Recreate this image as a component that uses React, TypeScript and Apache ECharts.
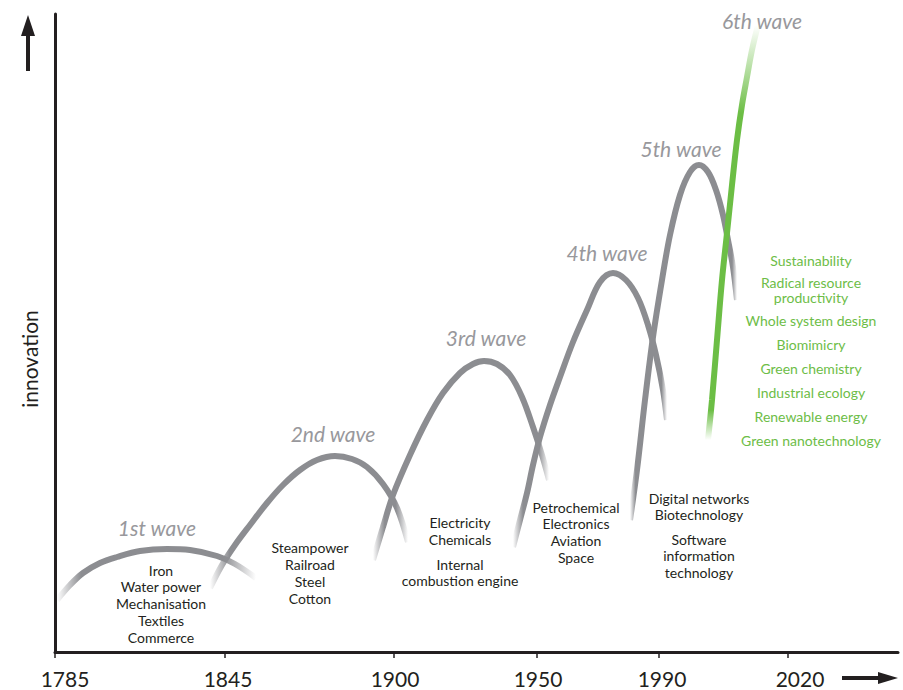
import React, { useEffect, useRef } from "react";
import * as echarts from "echarts";

// ---------- data ----------
// x: position along the timeline axis (axis units), y: innovation level (axis units)
const years = ["1785", "1845", "1900", "1950", "1990", "2020"];
const yearPos = [0, 170, 339, 482, 604, 733];
const yearShift = [10, 3, 1, 1, 3, 12];

const wave1 = [[2, 52], [15, 67], [28, 79], [45, 89], [62, 95], [85, 101], [112, 103], [135, 102], [162, 96], [180, 88], [201, 74]];
const wave2 = [[155, 64], [167, 87], [180, 107], [195, 127], [212, 149], [228, 167], [245, 182], [262, 192], [280, 196], [297, 193], [312, 185], [328, 168], [342, 144], [353, 110]];
const wave3 = [[318, 92], [328, 125], [338, 157], [355, 197], [372, 232], [388, 259], [405, 279], [418, 288], [429, 291], [442, 288], [455, 277], [467, 255], [478, 225], [487, 197], [494, 172]];
const wave4 = [[458, 105], [465, 132], [472, 159], [478, 187], [485, 215], [495, 247], [505, 275], [518, 310], [532, 342], [545, 370], [558, 379], [571, 372], [583, 354], [593, 327], [601, 297], [608, 262], [612, 232]];
const wave5 = [[575, 132], [582, 182], [590, 252], [598, 315], [607, 372], [615, 417], [625, 457], [635, 480], [644, 487], [653, 480], [661, 462], [668, 437], [673, 412], [678, 385], [682, 352]];
const wave6 = [[653, 212], [657, 252], [662, 312], [667, 372], [672, 419], [677, 467], [682, 512], [687, 547], [692, 575], [697, 602], [703, 627]];

const waves = [wave1, wave2, wave3, wave4, wave5, wave6];
const waveNames = ["1st wave", "2nd wave", "3rd wave", "4th wave", "5th wave", "6th wave"];

const wave1Items = ["Iron", "Water power", "Mechanisation", "Textiles", "Commerce"];
const wave2Items = ["Steampower", "Railroad", "Steel", "Cotton"];
const wave3ItemsA = ["Electricity", "Chemicals"];
const wave3ItemsB = ["Internal", "combustion engine"];
const wave4Items = ["Petrochemical", "Electronics", "Aviation", "Space"];
const wave5ItemsA = ["Digital networks", "Biotechnology"];
const wave5ItemsB = ["Software", "information", "technology"];
const wave6Items = [
  "Sustainability",
  "Radical resource",
  "productivity",
  "Whole system design",
  "Biomimicry",
  "Green chemistry",
  "Industrial ecology",
  "Renewable energy",
  "Green nanotechnology",
];

// ---------- styles ----------
const FONT = "Lato";
const DARK = "#231f20";
const GRAY = "rgb(140,141,145)";
const GRAY0 = "rgba(140,141,145,0)";
const GREEN = "rgb(108,190,69)";
const GREEN0 = "rgba(108,190,69,0)";
const LABEL_GRAY = "#98989c";
const TEXT_GREEN = "#6dbd47";

function pointAt(pts: number[][], dist: number, fromEnd: boolean) {
  const p = fromEnd ? [...pts].reverse() : pts;
  let acc = 0;
  for (let i = 1; i < p.length; i++) {
    const dx = p[i][0] - p[i - 1][0];
    const dy = p[i][1] - p[i - 1][1];
    const d = Math.hypot(dx, dy);
    if (acc + d >= dist) {
      const t = (dist - acc) / d;
      return [p[i - 1][0] + dx * t, p[i - 1][1] + dy * t];
    }
    acc += d;
  }
  return p[p.length - 1];
}

function fadeGradient(pts: number[][], c: string, c0: string, fadeA: number, fadeB: number, vertical: boolean) {
  const ax = vertical ? 1 : 0;
  const vals = pts.map((p) => p[ax]);
  const mn = Math.min(...vals);
  const mx = Math.max(...vals);
  const f = (p: number[]) => (vertical ? (mx - p[1]) / (mx - mn) : (p[0] - mn) / (mx - mn));
  const a = pointAt(pts, fadeA, false);
  const b = pointAt(pts, fadeB, true);
  const stops = [
    { offset: f(pts[0]), color: c0 },
    { offset: f(a), color: c },
    { offset: f(b), color: c },
    { offset: f(pts[pts.length - 1]), color: c0 },
  ].sort((s, t) => s.offset - t.offset);
  return vertical
    ? new echarts.graphic.LinearGradient(0, 0, 0, 1, stops)
    : new echarts.graphic.LinearGradient(0, 0, 1, 0, stops);
}

const GRID = { left: 55, right: 5, top: 14, bottom: 38 };

function textBlock(lines: string[], x: number, y0: number, lh: number, color: string, size = 14) {
  return lines.map((t, i) => ({
    type: "text",
    x,
    y: y0 + i * lh,
    silent: true,
    style: {
      text: t,
      fill: color,
      font: `${size}px ${FONT}`,
      align: "center",
      verticalAlign: "middle",
    },
  }));
}

export default function App() {
  const ref = useRef<HTMLDivElement>(null);

  useEffect(() => {
    if (!ref.current) return;
    const chart = echarts.init(ref.current, null, { renderer: "svg" });

    const rich: Record<string, any> = {};
    years.forEach((_, i) => {
      rich["p" + i] = {
        fontFamily: FONT,
        fontSize: 21,
        lineHeight: 21,
        color: DARK,
        padding: [0, 0, 0, yearShift[i] * 2],
      };
    });

    const series = waves.map((w, i) => ({
      type: "line",
      name: waveNames[i],
      data: w,
      smooth: 0.35,
      showSymbol: false,
      symbol: "none",
      silent: true,
      z: 2 + i,
      lineStyle: {
        width: 6,
        color:
          i === 5
            ? fadeGradient(w, GREEN, GREEN0, 30, 90, true)
            : fadeGradient(w, GRAY, GRAY0, i === 0 ? 35 : 40, 38, false),
      },
    }));

    const waveLabelPos = [
      [157, 527],
      [333, 433],
      [486, 337],
      [607, 252],
      [681, 148],
      [762, 20],
    ];

    const graphics: any[] = [];
    waveNames.forEach((n, i) => {
      graphics.push({
        type: "text",
        x: waveLabelPos[i][0],
        y: waveLabelPos[i][1],
        silent: true,
        style: {
          text: n,
          fill: LABEL_GRAY,
          font: `italic 21px ${FONT}`,
          align: "center",
          verticalAlign: "middle",
        },
      });
    });
    graphics.push(...textBlock(wave1Items, 161, 570, 16.8, DARK));
    graphics.push(...textBlock(wave2Items, 310, 547, 17, DARK));
    graphics.push(...textBlock(wave3ItemsA, 460, 522, 17, DARK));
    graphics.push(...textBlock(wave3ItemsB, 460, 564, 16.5, DARK));
    graphics.push(...textBlock(wave4Items, 576, 507, 16.8, DARK));
    graphics.push(...textBlock(wave5ItemsA, 699, 498, 16.5, DARK));
    graphics.push(...textBlock(wave5ItemsB, 699, 539, 16.8, DARK));
    const greenY = [260, 282, 297.5, 320, 344, 368, 392, 416, 440];
    wave6Items.forEach((t, i) => {
      graphics.push({
        type: "text",
        x: 811,
        y: greenY[i],
        silent: true,
        style: {
          text: t,
          fill: TEXT_GREEN,
          font: `14px ${FONT}`,
          align: "center",
          verticalAlign: "middle",
        },
      });
    });
    // axis title
    graphics.push({
      type: "text",
      x: 29,
      y: 359,
      rotation: Math.PI / 2,
      silent: true,
      style: {
        text: "innovation",
        fill: DARK,
        font: `21px ${FONT}`,
        align: "center",
        verticalAlign: "middle",
      },
    });
    // arrows
    graphics.push({ type: "rect", shape: { x: 26, y: 34, width: 4, height: 37 }, style: { fill: DARK }, silent: true });
    graphics.push({ type: "polygon", shape: { points: [[21, 36], [35, 36], [28, 15]] }, style: { fill: DARK }, silent: true });
    graphics.push({ type: "rect", shape: { x: 842, y: 676, width: 38, height: 4 }, style: { fill: DARK }, silent: true });
    graphics.push({ type: "polygon", shape: { points: [[878, 672], [878, 684], [898, 678]] }, style: { fill: DARK }, silent: true });

    chart.setOption({
      animation: false,
      backgroundColor: "#ffffff",
      grid: GRID,
      xAxis: {
        type: "value",
        min: 0,
        max: 843,
        splitLine: { show: false },
        axisLine: { show: true, lineStyle: { color: DARK, width: 3 } },
        axisTick: {
          show: true,
          customValues: yearPos,
          length: 6,
          lineStyle: { color: DARK, width: 1.5 },
        },
        axisLabel: {
          show: true,
          customValues: yearPos,
          margin: 16,
          fontFamily: FONT,
          fontSize: 21,
          lineHeight: 21,
          color: DARK,
          formatter: (v: number) => {
            const i = yearPos.indexOf(Number(v));
            return i < 0 ? "" : `{p${i}|${years[i]}}`;
          },
          rich,
        },
      },
      yAxis: {
        type: "value",
        min: 0,
        max: 638,
        splitLine: { show: false },
        axisLine: { show: true, lineStyle: { color: DARK, width: 3 } },
        axisTick: { show: false },
        axisLabel: { show: false },
      },
      series,
      graphic: graphics,
    });

    return () => chart.dispose();
  }, []);

  return (
    <div
      ref={ref}
      style={{ position: "absolute", left: 0, top: 0, width: 903, height: 690 }}
    />
  );
}
